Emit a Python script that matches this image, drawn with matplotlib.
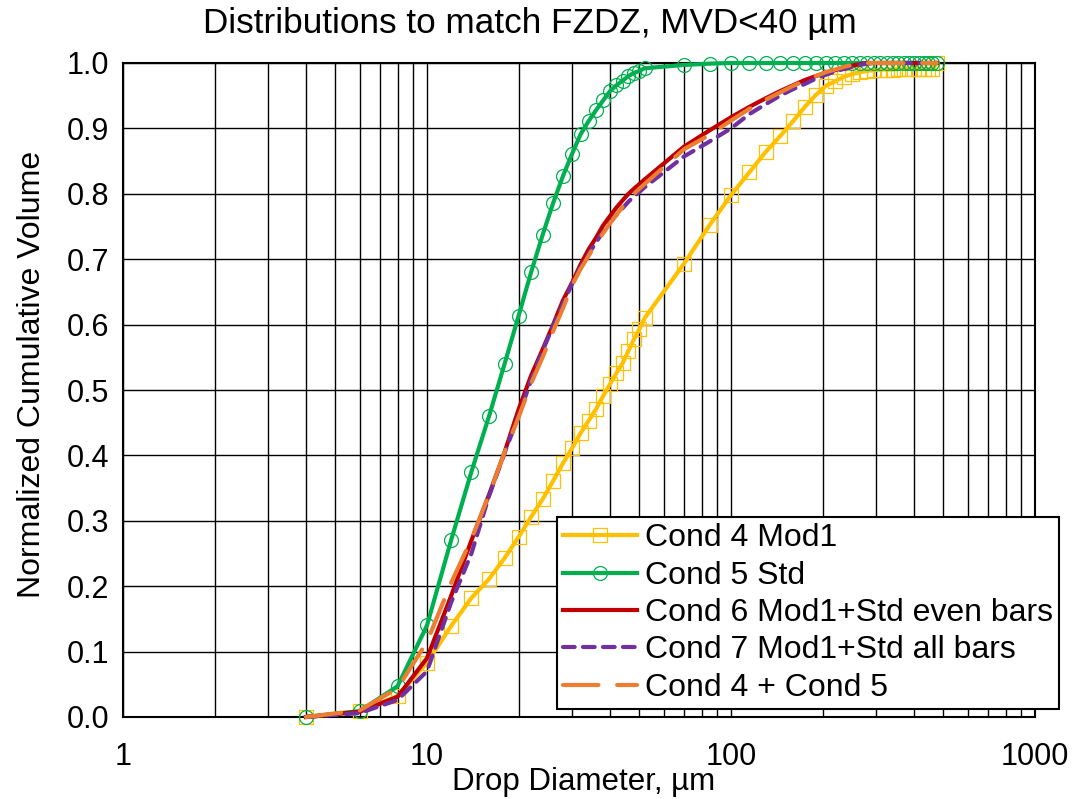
import numpy as np
from matplotlib import pyplot as plt

plt.rcParams['font.family'] = ['Liberation Sans', 'DejaVu Sans']

# drop diameter bins, um
diam = [4, 6, 8, 10, 12, 14, 16, 18, 20, 22, 24, 26, 28, 30, 32, 34, 36, 38, 40, 42, 44, 46, 48, 50, 52,
        70, 85, 100, 115, 130, 145, 160, 175, 190, 205, 220, 235, 250, 265, 280, 295, 310, 325, 340,
        355, 370, 385, 400, 415, 430, 445, 460, 475]

cond4_mod1 = [0.0, 0.009, 0.032, 0.083, 0.139, 0.182, 0.211, 0.243, 0.275, 0.306, 0.333, 0.361, 0.388,
              0.411, 0.434, 0.453, 0.471, 0.491, 0.509, 0.526, 0.541, 0.56, 0.578, 0.593, 0.61,
              0.693, 0.752, 0.798, 0.833, 0.864, 0.888, 0.911, 0.933, 0.951, 0.965, 0.972, 0.979,
              0.983, 0.986, 0.988, 0.989, 0.99, 0.99, 0.99, 0.991, 0.991, 0.991, 0.991, 0.991,
              0.991, 0.991, 0.991, 1.0]

cond5_std = [0.0, 0.009, 0.047, 0.14, 0.27, 0.375, 0.46, 0.54, 0.613, 0.68, 0.737, 0.786, 0.827,
             0.861, 0.891, 0.911, 0.928, 0.943, 0.957, 0.966, 0.973, 0.98, 0.985, 0.988, 0.992,
             0.997, 0.999, 1.0, 1.0, 1.0, 1.0, 1.0, 1.0, 1.0, 1.0, 1.0, 1.0,
             1.0, 1.0, 1.0, 1.0, 1.0, 1.0, 1.0, 1.0, 1.0, 1.0, 1.0, 1.0,
             1.0, 1.0, 1.0, 1.0]

cond6_even = [0.0, 0.008, 0.031, 0.09, 0.185, 0.27, 0.34, 0.405, 0.47, 0.522, 0.562, 0.6, 0.637,
              0.664, 0.692, 0.715, 0.733, 0.752, 0.766, 0.779, 0.79, 0.8, 0.808, 0.815, 0.822,
              0.872, 0.897, 0.917, 0.933, 0.946, 0.957, 0.966, 0.974, 0.98, 0.985, 0.989, 0.993,
              0.996, 0.998, 1.0, 1.0, 1.0, 1.0, 1.0, 1.0, 1.0, 1.0, 1.0, 1.0,
              1.0, 1.0, 1.0, 1.0]

cond7_all = [0.0, 0.006, 0.026, 0.07, 0.175, 0.25, 0.338, 0.404, 0.46, 0.515, 0.56, 0.598, 0.632,
             0.662, 0.688, 0.708, 0.726, 0.742, 0.756, 0.768, 0.778, 0.788, 0.796, 0.803, 0.81,
             0.857, 0.88, 0.9, 0.922, 0.937, 0.95, 0.96, 0.968, 0.976, 0.982, 0.987, 0.991,
             0.994, 0.997, 0.999, 1.0, 1.0, 1.0, 1.0, 1.0, 1.0, 1.0, 1.0, 1.0,
             1.0, 1.0, 1.0, 1.0]

cond4_plus_5 = [0.0, 0.01, 0.044, 0.115, 0.205, 0.272, 0.34, 0.405, 0.458, 0.51, 0.55, 0.59, 0.625,
                0.66, 0.685, 0.705, 0.725, 0.74, 0.755, 0.768, 0.78, 0.79, 0.8, 0.808, 0.815,
                0.868, 0.89, 0.912, 0.93, 0.944, 0.955, 0.965, 0.973, 0.98, 0.986, 0.99, 0.994,
                0.997, 0.999, 1.0, 1.0, 1.0, 1.0, 1.0, 1.0, 1.0, 1.0, 1.0, 1.0,
                1.0, 1.0, 1.0, 1.0]

labels = ['Cond 4 Mod1', 'Cond 5 Std', 'Cond 6 Mod1+Std even bars',
          'Cond 7 Mod1+Std all bars', 'Cond 4 + Cond 5']

fig = plt.figure(figsize=(10.87, 7.99), dpi=100)
ax = fig.add_axes([123 / 1087, 1 - 717 / 799, (1035 - 123) / 1087, (717 - 63) / 799])

lw = 3
ax.plot(diam, cond4_mod1, color='#FFC000', lw=lw, marker='s', ms=9.5, mfc='none', mew=0.9,
        label=labels[0], clip_on=False, zorder=3)
ax.plot(diam, cond5_std, color='#00B050', lw=lw, marker='o', ms=10, mfc='none', mew=0.9,
        label=labels[1], clip_on=False, zorder=3)
ax.plot(diam, cond6_even, color='#C00000', lw=lw, label=labels[2], clip_on=False, zorder=3)
ax.plot(diam, cond7_all, color='#7030A0', lw=lw, ls=(0, (2.8, 2.0)), dash_capstyle='round',
        label=labels[3], clip_on=False, zorder=3)
ax.plot(diam, cond4_plus_5, color='#ED7D31', lw=lw, ls=(0, (8.5, 4.5)), dash_capstyle='round',
        label=labels[4], clip_on=False, zorder=3)

ax.set_xscale('log')
ax.set_xlim(1, 1000)
ax.set_ylim(0, 1.0)
ax.set_xticks([1, 10, 100, 1000])
ax.set_xticklabels(['1', '10', '100', '1000'])
ax.set_yticks(np.arange(0, 1.01, 0.1))
ax.set_yticklabels(['%.1f' % v for v in np.arange(0, 1.01, 0.1)])
ax.grid(True, which='both', color='black', lw=1.0, zorder=0)
ax.tick_params(which='both', length=0, labelsize=22)
ax.tick_params(axis='x', pad=18)
ax.tick_params(axis='y', pad=10)
for s in ax.spines.values():
    s.set_linewidth(1.5)
    s.set_color('black')

fig.text(530 / 1087, 1 - 23 / 799, 'Distributions to match FZDZ, MVD<40 µm', fontsize=25.3,
         ha='center', va='center')
fig.text(584 / 1087, 1 - 782 / 799, 'Drop Diameter, µm', fontsize=22.5, ha='center', va='center')
fig.text(32 / 1087, 1 - 374 / 799, 'Normalized Cumulative Volume', fontsize=23, rotation=90,
         ha='center', va='center')

leg = ax.legend(loc='upper left', bbox_to_anchor=(557 / 1087, 1 - 517 / 799),
                bbox_transform=fig.transFigure, fontsize=23, fancybox=False, framealpha=1,
                edgecolor='black', handlelength=2.3, handletextpad=0.25, labelspacing=0.23,
                borderpad=0.2, borderaxespad=0, numpoints=1)
leg.get_frame().set_linewidth(1.5)
leg.set_zorder(5)

fig.savefig('out.png', dpi=100)
